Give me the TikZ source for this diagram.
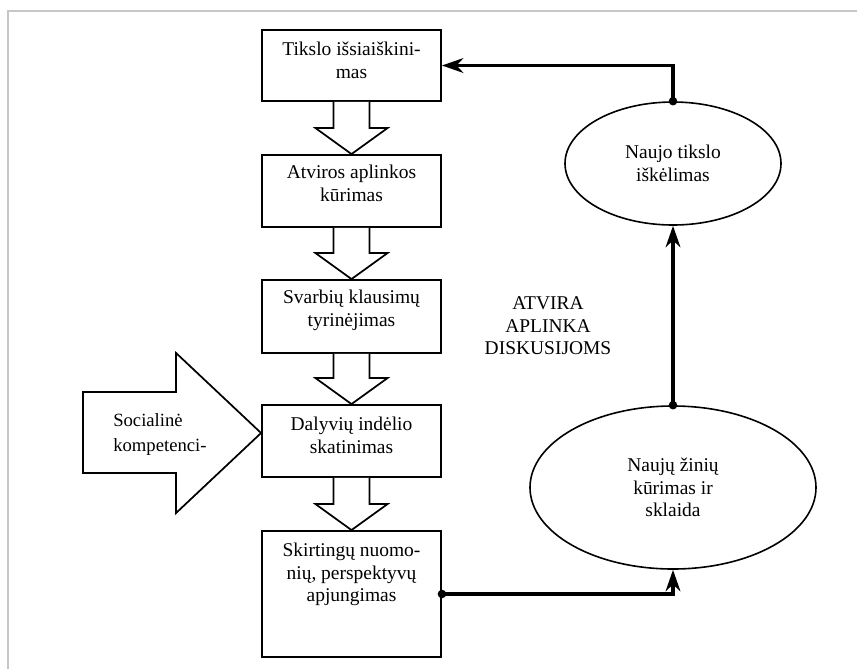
\documentclass[tikz,border=0pt]{standalone}
\usepackage{fontspec}
\setmainfont{Liberation Serif}
\usetikzlibrary{arrows.meta,shapes.geometric,calc}

\begin{document}
\begin{tikzpicture}[x=0.75pt,y=-0.75pt,
  txt/.style={font=\fontsize{14.6}{16.9}\selectfont, align=center, inner sep=0pt},
  stepbox/.style={draw, line width=1.4pt, minimum width=134.25pt, inner sep=0pt},
  boxtext/.style={txt, anchor=north, yshift=-9.75pt},
  oval/.style={draw, ellipse, line width=1.2pt, inner sep=0pt, txt},
  blk/.style={draw, line width=1.3pt, line join=miter, fill=white},
  conn/.style={line width=2.6pt, -{Stealth[length=16pt,width=11pt,inset=5pt]}},
  dot/.style={fill=black},
]
% page and frame
\fill[white] (0,0) rectangle (857,669);
\useasboundingbox (0,0) rectangle (857,669);
\draw[black!22, line width=1.6pt] (8,669) -- (8,11) -- (857,11);

% process steps
\node[stepbox, minimum height=53.25pt,
  label={[boxtext]north:{Tikslo išsiaiškini-\\mas}}] (b1) at (351.5,65.5) {};
\node[stepbox, minimum height=54pt,
  label={[boxtext, yshift=1.5pt]north:{Atviros aplinkos\\kūrimas}}] (b2) at (351.5,191) {};
\node[stepbox, minimum height=54.75pt,
  label={[boxtext, yshift=1.5pt]north:{Svarbių klausimų\\tyrinėjimas}}] (b3) at (351.5,316.5) {};
\node[stepbox, minimum height=54pt,
  label={[boxtext]north:{Dalyvių indėlio\\skatinimas}}] (b4) at (351.5,441) {};
\node[stepbox, minimum height=94.5pt,
  label={[boxtext]north:{Skirtingų nuomo-\\nių, perspektyvų\\apjungimas}}] (b5) at (351.5,594) {};

% hollow arrows between steps
\foreach \a/\b in {b1/b2,b2/b3,b3/b4,b4/b5}{
  \draw[blk] ($(\a.south)+(-18,0)$) -- ($(\b.north)+(-18,-26)$)
    -- ($(\b.north)+(-36,-26)$) -- (\b.north) -- ($(\b.north)+(36,-26)$)
    -- ($(\b.north)+(18,-26)$) -- ($(\a.south)+(18,0)$);
}

% input arrow on the left
\coordinate (tip) at ($(b4.west)+(0,-8)$);
\draw[blk] (tip) -- ($(tip)+(-85,-80)$) -- ($(tip)+(-85,-41)$)
  -- ($(tip)+(-178,-41)$) -- ($(tip)+(-178,40)$) -- ($(tip)+(-85,40)$)
  -- ($(tip)+(-85,80)$) -- cycle;
\node[txt, font=\fontsize{14}{18.75}\selectfont, align=left, anchor=west] (soc)
  at (113,434.5) {Socialinė\\kompetenci-};

% cycle on the right
\node[oval, minimum width=162pt, minimum height=92.25pt] (e1) at (673,163.5)
  {Naujo tikslo\\iškėlimas};
\node[oval, minimum width=214.5pt, minimum height=122.25pt] (e2) at (673,487.5)
  {Naujų žinių\\kūrimas ir\\sklaida};

\node[txt] (env) at (548,326) {ATVIRA\\APLINKA\\DISKUSIJOMS};

% connectors
\draw[conn] (b5.east) -| (e2.south);
\draw[conn] (e2.north) -- (e1.south);
\draw[conn] (e1.north) |- (b1.east);
\fill[dot] (b5.east) circle[radius=3.2pt];
\fill[dot] (e2.north) circle[radius=3.2pt];
\fill[dot] (e1.north) circle[radius=3.2pt];
\end{tikzpicture}
\end{document}
